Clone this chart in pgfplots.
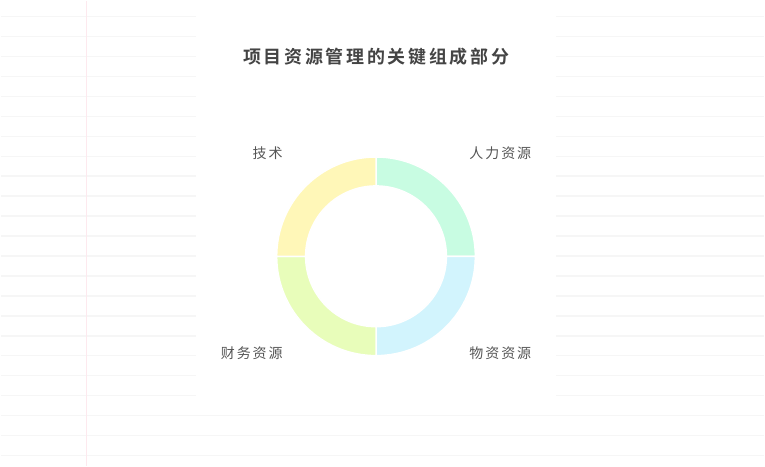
\documentclass[border=0pt]{standalone}
\usepackage{fontspec}
\usepackage{pgfplots}
\usepackage{pgfplotstable}
\pgfplotsset{compat=1.18}
\setmainfont{Noto Sans CJK SC}
\newfontfamily\cjklabel[LetterSpace=14]{Noto Sans CJK SC}
\newfontfamily\cjktitle[LetterSpace=15]{Noto Sans CJK SC Bold}

\definecolor{sliceA}{HTML}{C8FCE2}
\definecolor{sliceB}{HTML}{D2F4FD}
\definecolor{sliceC}{HTML}{E8FDBA}
\definecolor{sliceD}{HTML}{FFF7B8}
\definecolor{ruled}{HTML}{F6F6F6}
\definecolor{margin}{HTML}{FDE9EE}
\definecolor{titlec}{HTML}{444444}
\definecolor{labelc}{HTML}{555555}

% share of each resource
\pgfplotstableread[col sep=comma]{
name,value,color
人力资源,25,sliceA
物资资源,25,sliceB
财务资源,25,sliceC
技术,25,sliceD
}\piedata

\begin{document}
\begin{tikzpicture}
\begin{axis}[
  x=1pt, y=1pt,
  xmin=-376, xmax=389,
  ymin=-210, ymax=256,
  hide axis,
  clip=false,
]
\pgfplotsextra{
  % ruled paper
  \fill[white] (axis cs:-376,-210) rectangle (axis cs:389,256);
  \foreach \k in {0,...,22}{
    \draw[ruled, line width=1.3pt] (axis cs:-376,{240.3-20*\k}) -- (axis cs:389,{240.3-20*\k});
  }
  \draw[margin, line width=1.5pt] (axis cs:-290,-210) -- (axis cs:-290,256);
  \fill[white] (axis cs:-180,241) rectangle (axis cs:180,-149);
  % title
  \node[font=\cjktitle\fontsize{18}{22}\selectfont, text=titlec, anchor=center]
    at (axis cs:0,200) {项目资源管理的关键组成部分};
  % total
  \pgfplotstablegetrowsof{\piedata}
  \pgfmathtruncatemacro\lastrow{\pgfplotsretval-1}
  \gdef\pietotal{0}
  \foreach \i in {0,...,\lastrow}{
    \pgfplotstablegetelem{\i}{value}\of\piedata
    \pgfmathsetmacro\tmp{\pietotal+\pgfplotsretval}
    \xdef\pietotal{\tmp}
  }
  % slices, clockwise from the top
  \gdef\piestart{90}
  \foreach \i in {0,...,\lastrow}{
    \pgfplotstablegetelem{\i}{value}\of\piedata
    \pgfmathsetmacro\piestop{\piestart-360*\pgfplotsretval/\pietotal}
    \pgfmathsetmacro\piemid{(\piestart+\piestop)/2}
    \pgfplotstablegetelem{\i}{color}\of\piedata
    \edef\piecol{\pgfplotsretval}
    \fill[\piecol, draw=white, line width=1.5pt]
      (axis cs:{99.5*cos(\piestart)},{99.5*sin(\piestart)})
      arc[start angle=\piestart, end angle=\piestop, radius=99.5pt]
      -- (axis cs:{70.5*cos(\piestop)},{70.5*sin(\piestop)})
      arc[start angle=\piestop, end angle=\piestart, radius=70.5pt] -- cycle;
    \pgfmathsetmacro\cx{cos(\piemid)}
    \ifdim\cx pt>0pt \def\anc{west}\else\def\anc{east}\fi
    \pgfplotstablegetelem{\i}{name}\of\piedata
    \node[font=\cjklabel\fontsize{14}{16}\selectfont, text=labelc, anchor=\anc, inner sep=0pt]
      at (axis cs:{132*cos(\piemid)},{141.4*sin(\piemid)+3}) {\pgfplotsretval};
    \xdef\piestart{\piestop}
  }
}
\end{axis}
\end{tikzpicture}
\end{document}
